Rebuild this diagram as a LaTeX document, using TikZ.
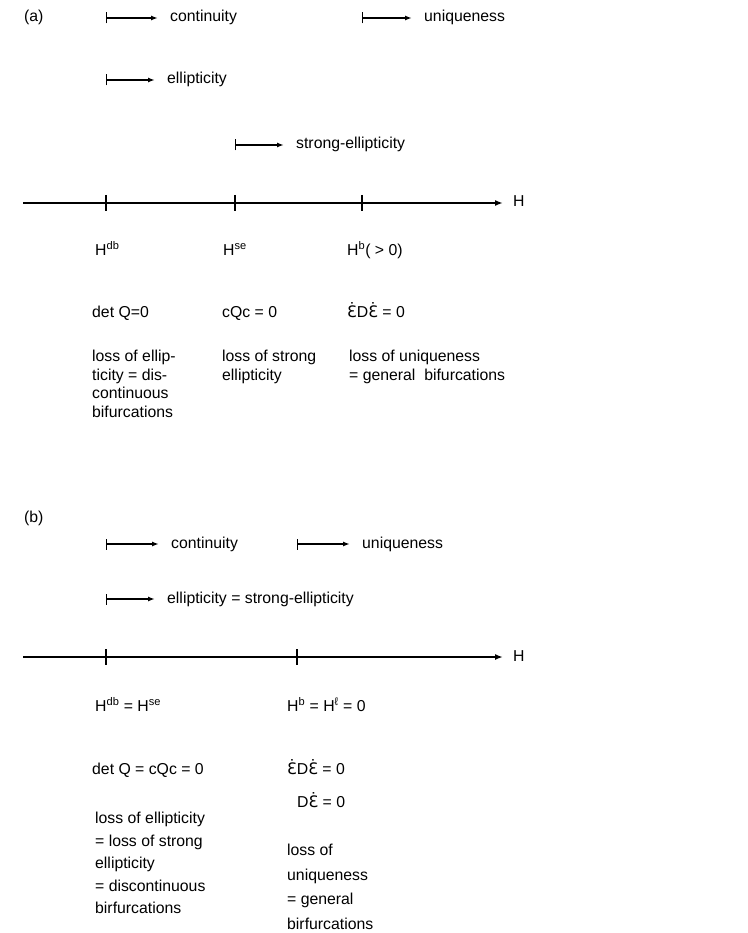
\documentclass[tikz,border=0pt]{standalone}
\usepackage{fontspec}
\setmainfont{Liberation Sans}
\newfontfamily\epsfont{DejaVu Sans}
\usetikzlibrary{arrows.meta,positioning}
\newcommand{\edot}{{\epsfont\accent"02D9 Ɛ}}

\begin{document}
\begin{tikzpicture}[x=1pt,y=-1pt,
  lbl/.style={font=\fontsize{15.8}{18.5}\selectfont,inner sep=2pt,text height=12pt,text depth=4pt},
  txt/.style={font=\fontsize{15.8}{18.5}\selectfont,inner sep=2pt,anchor=base west},
  block/.style={font=\fontsize{15.8}{#1}\selectfont,inner sep=2pt,align=left,anchor=north west},
  onset/.style={{Bar[width=11pt,line width=1.3pt]}-{Latex[length=7pt,width=5pt]},line width=1.6pt,shorten >=10pt},
  axis/.style={-{Latex[length=8pt,width=6pt]},line width=1.7pt},
  tick/.style={line width=1.3pt}]
\useasboundingbox (0,0) rectangle (747,933);
% panel (a)
\node[lbl,anchor=west] (la) at (22,18) {(a)};
\coordinate (a1) at (106,18);
\coordinate (a2) at (362,18);
\coordinate (a3) at (106,80);
\coordinate (a4) at (235,145);
\node[lbl,right=62pt of a1] (acont) {continuity};
\node[lbl,right=60pt of a2] (auniq) {uniqueness};
\node[lbl,right=59pt of a3] (aell) {ellipticity};
\node[lbl,right=59pt of a4] (astr) {strong-ellipticity};
\draw[onset] (a1) -- (acont);
\draw[onset] (a2) -- (auniq);
\draw[onset] (a3) -- (aell);
\draw[onset] (a4) -- (astr);
\coordinate (aL) at (23,203);
\coordinate (aR) at (503,203);
\draw[axis] (aL) -- (aR);
\node[lbl,right=8pt of aR] (aH) {H};
\foreach \x in {106,235,362}
  \draw[tick] (\x,195) -- (\x,211);
\node[txt] (adb) at (93,255) {H\textsuperscript{db}};
\node[txt] (ase) at (221,255) {H\textsuperscript{se}};
\node[txt] (ab) at (345,255) {H\textsuperscript{b}( > 0)};
\node[txt] (adet) at (90,317) {det Q=0};
\node[txt] (acqc) at (220,317) {cQc = 0};
\node[txt] (aede) at (345,317) {\edot D\edot\ = 0};
\node[block=18.5pt] (aloss1) at (90,348) {loss of ellip-\\ticity = dis-\\continuous\\bifurcations};
\node[block=18.5pt] (aloss2) at (220,348) {loss of strong\\ellipticity};
\node[block=18.5pt] (aloss3) at (347,348) {loss of uniqueness\\= general\ \ bifurcations};
% panel (b)
\node[lbl,anchor=west] (lb) at (22,518) {(b)};
\coordinate (b1) at (106,544);
\coordinate (b2) at (297,544);
\coordinate (b3) at (106,599);
\node[lbl,right=63pt of b1] (bcont) {continuity};
\node[lbl,right=63pt of b2] (buniq) {uniqueness};
\node[lbl,right=59pt of b3] (bell) {ellipticity = strong-ellipticity};
\draw[onset] (b1) -- (bcont);
\draw[onset] (b2) -- (buniq);
\draw[onset] (b3) -- (bell);
\coordinate (bL) at (23,657);
\coordinate (bR) at (503,657);
\draw[axis] (bL) -- (bR);
\node[lbl,right=8pt of bR] (bH) {H};
\foreach \x in {106,297}
  \draw[tick] (\x,649) -- (\x,665);
\node[txt] (bdb) at (93,711) {H\textsuperscript{db} = H\textsuperscript{se}};
\node[txt] (bb) at (285,711) {H\textsuperscript{b} = H\textsuperscript{ℓ} = 0};
\node[txt] (bdet) at (90,774) {det Q = cQc = 0};
\node[txt] (bede) at (285,774) {\edot D\edot\ = 0};
\node[txt] (bde) at (295,807) {D\edot\ = 0};
\node[block=22.5pt] (bloss1) at (93,810) {loss of ellipticity\\= loss of strong\\ellipticity\\= discontinuous\\birfurcations};
\node[block=24.5pt] (bloss2) at (285,842) {loss of\\uniqueness\\= general\\birfurcations};
\end{tikzpicture}
\end{document}
